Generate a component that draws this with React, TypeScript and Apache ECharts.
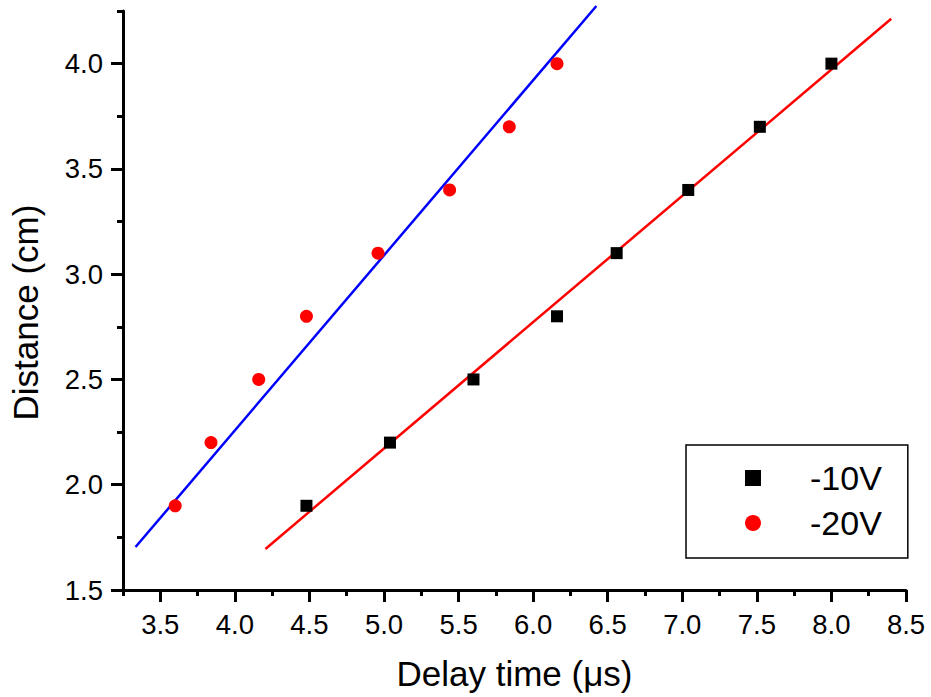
import React, { useEffect, useRef } from "react";
import * as echarts from "echarts";

const xMin = 3.25;
const xMax = 8.5;
const yMin = 1.5;
const yMax = 4.25;
const xTickValues = [3.5, 4.0, 4.5, 5.0, 5.5, 6.0, 6.5, 7.0, 7.5, 8.0, 8.5];
const yTickValues = [1.5, 2.0, 2.5, 3.0, 3.5, 4.0];

const seriesNames = ["-10V", "-20V"];
const time10V = [4.48, 5.04, 5.6, 6.16, 6.56, 7.04, 7.52, 8.0];
const dist10V = [1.9, 2.2, 2.5, 2.8, 3.1, 3.4, 3.7, 4.0];
const time20V = [3.6, 3.84, 4.16, 4.48, 4.96, 5.44, 5.84, 6.16];
const dist20V = [1.9, 2.2, 2.5, 2.8, 3.1, 3.4, 3.7, 4.0];

// fitted lines, endpoints
const fit10VX = [4.205, 8.401];
const fit10VY = [1.695, 4.213];
const fit20VX = [3.334, 6.424];
const fit20VY = [1.704, 4.274];

const FONT = "'Liberation Sans', Arial, sans-serif";

export default function App() {
  const ref = useRef<HTMLDivElement>(null);
  useEffect(() => {
    document.body.style.margin = "0";
    if (!ref.current) return;
    const chart = echarts.init(ref.current, undefined, { renderer: "svg" });
    const pairs = (xs: number[], ys: number[]) => xs.map((x, i) => [x, ys[i]]);
    const axisLine = { show: true, lineStyle: { color: "#000", width: 3 } };
    chart.setOption({
      animation: false,
      backgroundColor: "#fff",
      textStyle: { fontFamily: FONT },
      grid: { left: 122.5, right: 25, top: 11, bottom: 107, containLabel: false },
      legend: {
        data: [
          { name: seriesNames[0], icon: "rect" },
          { name: seriesNames[1], icon: "circle" },
        ],
        orient: "vertical",
        left: 686,
        top: 445,
        width: 223,
        itemWidth: 16,
        itemHeight: 16,
        itemGap: 9,
        selectedMode: false,
        borderColor: "#000",
        borderWidth: 1.5,
        padding: [15, 26, 17, 59],
        itemStyle: { opacity: 1 },
        textStyle: {
          fontSize: 34,
          color: "#000",
          fontFamily: FONT,
          lineHeight: 36,
          padding: [0, 0, 0, 44],
        },
      },
      xAxis: [
        {
          type: "value",
          min: xMin,
          max: xMax,
          name: "Delay time (\u03bcs)",
          nameLocation: "middle",
          nameGap: 66,
          nameTextStyle: { fontSize: 35, color: "#000", fontFamily: FONT },
          axisLine,
          splitLine: { show: false },
          axisTick: {
            show: true,
            length: 12,
            lineStyle: { width: 3, color: "#000" },
            customValues: xTickValues,
          },
          axisLabel: {
            fontSize: 27.5,
            color: "#000",
            margin: 20,
            customValues: xTickValues,
            formatter: (v: number) => v.toFixed(1),
          },
        },
        {
          type: "value",
          min: xMin,
          max: xMax,
          interval: 0.25,
          position: "bottom",
          axisLine: { show: false },
          splitLine: { show: false },
          axisLabel: { show: false },
          axisTick: { show: true, length: 6, lineStyle: { width: 3, color: "#000" } },
        },
      ],
      yAxis: [
        {
          type: "value",
          min: yMin,
          max: yMax,
          name: "Distance (cm)",
          nameLocation: "middle",
          nameGap: 80,
          nameTextStyle: {
            fontSize: 35,
            color: "#000",
            fontFamily: FONT,
            padding: [0, 24, 0, 0],
          },
          axisLine,
          splitLine: { show: false },
          axisTick: {
            show: true,
            length: 12,
            lineStyle: { width: 3, color: "#000" },
            customValues: yTickValues,
          },
          axisLabel: {
            fontSize: 27.5,
            color: "#000",
            margin: 20,
            customValues: yTickValues,
            formatter: (v: number) => v.toFixed(1),
          },
        },
        {
          type: "value",
          min: yMin,
          max: yMax,
          interval: 0.25,
          position: "left",
          axisLine: { show: false },
          splitLine: { show: false },
          axisLabel: { show: false },
          axisTick: { show: true, length: 6, lineStyle: { width: 3, color: "#000" } },
        },
      ],
      series: [
        {
          name: "fit -20V",
          type: "line",
          data: pairs(fit20VX, fit20VY),
          showSymbol: false,
          symbol: "none",
          clip: false,
          lineStyle: { color: "#0000ff", width: 2.5 },
          z: 2,
        },
        {
          name: "fit -10V",
          type: "line",
          data: pairs(fit10VX, fit10VY),
          showSymbol: false,
          symbol: "none",
          clip: false,
          lineStyle: { color: "#ff0000", width: 2.5 },
          z: 2,
        },
        {
          name: seriesNames[0],
          type: "scatter",
          symbol: "rect",
          symbolSize: 12,
          itemStyle: { color: "#000", opacity: 1 },
          data: pairs(time10V, dist10V),
          z: 3,
        },
        {
          name: seriesNames[1],
          type: "scatter",
          symbol: "circle",
          symbolSize: 13,
          itemStyle: { color: "#ff0000", opacity: 1 },
          data: pairs(time20V, dist20V),
          z: 3,
        },
      ],
    });
    return () => chart.dispose();
  }, []);
  return <div ref={ref} style={{ width: 931, height: 697 }} />;
}
